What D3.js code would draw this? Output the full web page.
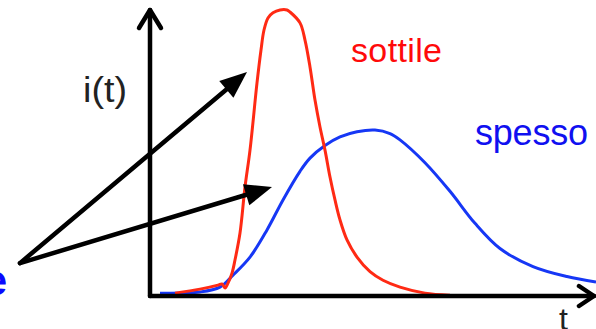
<!DOCTYPE html>
<html>
<head>
<meta charset="utf-8">
<script src="https://cdn.jsdelivr.net/npm/d3@7"></script>
<style>
  html, body { margin: 0; padding: 0; background: #fff; }
  svg { display: block; }
</style>
</head>
<body>
<svg id="chart" width="596" height="329"></svg>
<script>
// Current pulse i(t): thin ("sottile") vs thick ("spesso")
const sottileT = [5, 10, 13.6, 14.4, 15, 15.6, 16.4, 17, 18, 19, 20, 21.4, 22.2, 22.8, 23.6, 24.6, 26, 27.4, 28, 30, 31, 32, 33, 34, 35, 36, 37, 38, 39.4, 41.4, 44, 46.6, 50, 55, 60];
const sottileI = [1.0, 2.4, 3.8, 4.2, 2.8, 4.5, 8.0, 12.6, 22.0, 38.1, 51.0, 74.5, 86.0, 93.0, 97.2, 99.0, 100, 100, 99.3, 95.5, 89.5, 80.1, 68.5, 59.1, 51.0, 41.6, 33.6, 26.6, 19.6, 13.6, 8.5, 5.5, 3.1, 1.0, 0.3];

const spessoT = [2, 10, 14, 16.6, 20, 23.4, 26.6, 30, 32, 35, 38, 41.4, 45, 48, 50, 55, 60, 65, 70, 76.6, 83.4, 89.2];
const spessoI = [1.0, 1.4, 3.1, 7.3, 13.6, 23.1, 33.6, 43.6, 48.2, 52.6, 55.6, 57.4, 58.0, 56.8, 54.6, 46.6, 36.6, 25.4, 16.6, 10.3, 6.8, 4.9];

// Pointer arrows: shared origin, two tips (data units)
const arrowFrom = [-26, 11.5];
const arrowTips = [[19.4, 78.3], [24.4, 38.1]];

const svg = d3.select("#chart");
const x = d3.scaleLinear().domain([0, 89.2]).range([150, 596]);
const y = d3.scaleLinear().domain([0, 100]).range([296, 10]);

const line = d3.line()
  .x(d => x(d[0]))
  .y(d => y(d[1]))
  .curve(d3.curveCatmullRom.alpha(0.5));

// curves
svg.append("path")
  .datum(d3.zip(spessoT, spessoI))
  .attr("d", line)
  .attr("fill", "none")
  .attr("stroke", "#1637f5")
  .attr("stroke-width", 3);

svg.append("path")
  .datum(d3.zip(sottileT, sottileI))
  .attr("d", line)
  .attr("fill", "none")
  .attr("stroke", "#ff2a14")
  .attr("stroke-width", 3);

// axes with open chevron heads
const ax = svg.append("g")
  .attr("fill", "none")
  .attr("stroke", "#000")
  .attr("stroke-width", 4.5)
  .attr("stroke-linecap", "round")
  .attr("stroke-linejoin", "round");

const x0 = x(0), y0 = y(0);
const xEnd = x.range()[1] - 2, yTop = y.range()[1];
ax.append("path").attr("d", `M${x0},${y0}H${xEnd}`);
ax.append("path").attr("d", `M${x0},${y0}V${yTop}`);
ax.append("path").attr("d", `M${x0 - 11},${yTop + 18}L${x0},${yTop}L${x0 + 11},${yTop + 18}`);
ax.append("path").attr("d", `M${xEnd - 15},${y0 - 10}L${xEnd},${y0}L${xEnd - 15},${y0 + 10}`);

// pointer arrows with filled triangular heads
const ox = x(arrowFrom[0]), oy = y(arrowFrom[1]);
arrowTips.forEach(t => {
  const tx = x(t[0]), ty = y(t[1]);
  const dx = tx - ox, dy = ty - oy, len = Math.hypot(dx, dy);
  const ux = dx / len, uy = dy / len;
  const headLen = 27, headHalf = 11;
  const bx = tx - ux * headLen, by = ty - uy * headLen;
  svg.append("line")
    .attr("x1", ox).attr("y1", oy)
    .attr("x2", bx + ux * 2).attr("y2", by + uy * 2)
    .attr("stroke", "#000").attr("stroke-width", 4.5)
    .attr("stroke-linecap", "round");
  svg.append("path")
    .attr("d", `M${tx},${ty}L${bx - uy * headHalf},${by + ux * headHalf}L${bx + uy * headHalf},${by - ux * headHalf}Z`)
    .attr("fill", "#000");
});

// labels
const font = "Liberation Sans, Arial, sans-serif";
svg.append("text")
  .attr("x", 351).attr("y", 62)
  .attr("font-family", font)
  .attr("font-size", 34)
  .attr("fill", "#ff0a0a")
  .attr("textLength", 91)
  .text("sottile");

svg.append("text")
  .attr("x", 475).attr("y", 145)
  .attr("font-family", font)
  .attr("font-size", 36)
  .attr("fill", "#1010f0")
  .attr("textLength", 113)
  .text("spesso");

svg.append("text")
  .attr("x", 83).attr("y", 102)
  .attr("font-family", font)
  .attr("font-size", 35)
  .attr("fill", "#222")
  .attr("textLength", 44)
  .attr("lengthAdjust", "spacingAndGlyphs")
  .text("i(t)");

svg.append("text")
  .attr("x", 559).attr("y", 330)
  .attr("font-family", font)
  .attr("font-size", 32)
  .attr("fill", "#222")
  .text("t");

svg.append("text")
  .attr("x", 7).attr("y", 295)
  .attr("text-anchor", "end")
  .attr("font-family", font)
  .attr("font-size", 42)
  .attr("font-weight", "bold")
  .attr("fill", "#0a0aff")
  .text("e");
</script>
</body>
</html>
